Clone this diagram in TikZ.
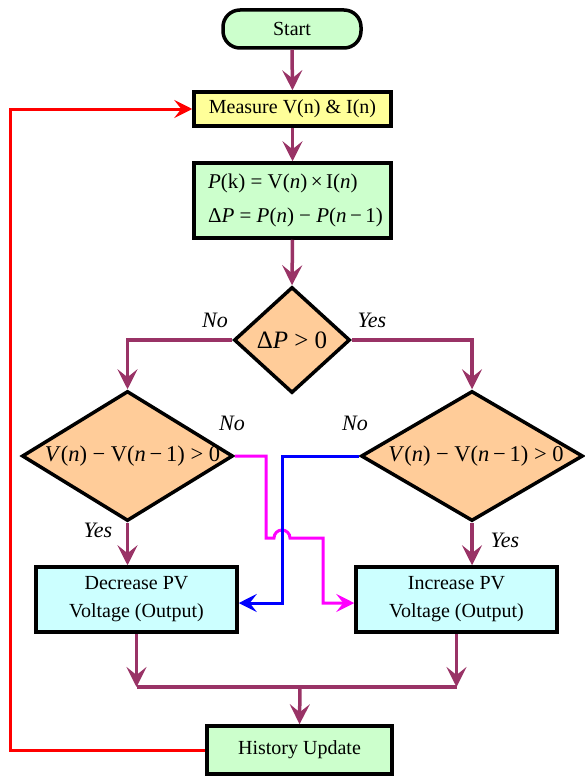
\documentclass[tikz,border=0pt]{standalone}
\usepackage{fontspec}
\setmainfont{Liberation Serif}
\usetikzlibrary{arrows.meta,shapes.geometric}
\definecolor{flowc}{HTML}{993366}
\definecolor{pgreen}{HTML}{CCFFCC}
\definecolor{pyellow}{HTML}{FFFF99}
\definecolor{ppeach}{HTML}{FFCC99}
\definecolor{pcyan}{HTML}{CCFFFF}
\definecolor{pmag}{HTML}{FF00FF}
\definecolor{pred}{HTML}{FF0000}
\definecolor{pblue}{HTML}{0000FF}
\begin{document}
\begin{tikzpicture}[x=1pt,y=-1pt,
  box/.style={draw=black,line width=3.5pt,inner sep=0pt,align=center,font=\fontsize{20}{28}\selectfont},
  dia/.style={draw=black,line width=3.5pt,diamond,fill=ppeach,inner sep=0pt},
  dtext/.style={font=\fontsize{22.5}{26}\selectfont,inner sep=0pt},
  lab/.style={font=\fontsize{22}{26}\selectfont\itshape,inner sep=0pt},
  flow/.style={draw=flowc,line width=3.5pt,-{Stealth[length=20pt,width=20pt,inset=8pt]}},
  flown/.style={draw=flowc,line width=3.5pt},
  fb/.style={line width=3pt,-{Stealth[length=18pt,width=18pt,inset=7pt]}}
]
\useasboundingbox (0,0) rectangle (584,776);
% nodes
\node[box,fill=pgreen,rounded corners=17pt,minimum width=138pt,minimum height=38pt] (start) at (292,29) {Start};
\node[box,fill=pyellow,minimum width=197pt,minimum height=34pt] (meas) at (292.5,109) {Measure V(n) \& I(n)};
\node[box,fill=pgreen,minimum width=197pt,minimum height=75pt] (pbox) at (292.5,200.5) {};
\node[align=left,inner sep=0pt,font=\fontsize{21}{34}\selectfont] (ptext) at ([xshift=3pt]pbox.center)
  {\textit{P}(k) = V(\textit{n})\,×\,I(\textit{n})\\ Δ\textit{P} = \textit{P}(\textit{n}) − \textit{P}(\textit{n}\,−\,1)};
\node[dia,minimum width=116pt,minimum height=106pt] (d0) at (292,340) {};
\node[dtext,font=\fontsize{25}{28}\selectfont] (t0) at (d0.center) {Δ\textit{P} > 0};
\node[dia,minimum width=211pt,minimum height=130pt] (dL) at (127.5,456) {};
\node[dtext] (tL) at ([xshift=5pt]dL.center) {\textit{V}(\textit{n}) − V(\textit{n}\,−\,1) > 0};
\node[dia,minimum width=222pt,minimum height=130pt] (dR) at (472,456) {};
\node[dtext] (tR) at ([xshift=4pt]dR.center) {\textit{V}(\textit{n}) − V(\textit{n}\,−\,1) > 0};
\node[box,fill=pcyan,minimum width=201pt,minimum height=65pt] (dec) at (136.5,599.5) {Decrease PV\\Voltage (Output)};
\node[box,fill=pcyan,minimum width=201pt,minimum height=65pt] (inc) at (456.5,599.5) {Increase PV\\Voltage (Output)};
\node[box,fill=pgreen,minimum width=185pt,minimum height=48pt] (hist) at (299.5,750) {History Update};
% labels
\node[lab] (l1) at (215,320) {No};
\node[lab] (l2) at (372,320) {Yes};
\node[lab] (l3) at (232,423) {No};
\node[lab] (l4) at (355,423) {No};
\node[lab] (l5) at (98,530) {Yes};
\node[lab] (l6) at (505,540) {Yes};
% coordinates
\coordinate (jn) at (300,687);
\coordinate (rl) at (10,0);
\coordinate (mx) at (266,0);
\coordinate (my) at (323,0);
\coordinate (bx) at (282,0);
\coordinate (hy) at (0,538);
\coordinate (ay) at (0,603);
% main flow
\draw[flow] (start.south) -- (meas.north);
\draw[flow] (meas.south) -- (pbox.north);
\draw[flow] (pbox.south) -- (d0.north);
\draw[flow] (d0.west) -| (dL.north);
\draw[flow] (d0.east) -| (dR.north);
\draw[flow] (dL.south) -- (dL.south |- dec.north);
\draw[flow] (dR.south) -- (dR.south |- inc.north);
\draw[flown] (dec.south |- jn) -- (inc.south |- jn);
\draw[flow] (dec.south) -- (dec.south |- jn);
\draw[flow] (inc.south) -- (inc.south |- jn);
\draw[flow] (jn) -- (hist.north);
% feedback
\draw[fb,pred] (hist.west) -- (hist.west -| rl) |- (meas.west);
% magenta
\draw[fb,pmag] (dL.east) -- (dL.east -| mx) -- (mx |- hy) -- ([xshift=-8pt]bx |- hy)
  arc[start angle=180,end angle=0,radius=8pt] -- (my |- hy) -- (my |- ay) -- (inc.west |- ay);
% blue
\draw[fb,pblue] (dR.west) -- (dR.west -| bx) -- (bx |- ay) -- (dec.east |- ay);
\end{tikzpicture}
\end{document}
